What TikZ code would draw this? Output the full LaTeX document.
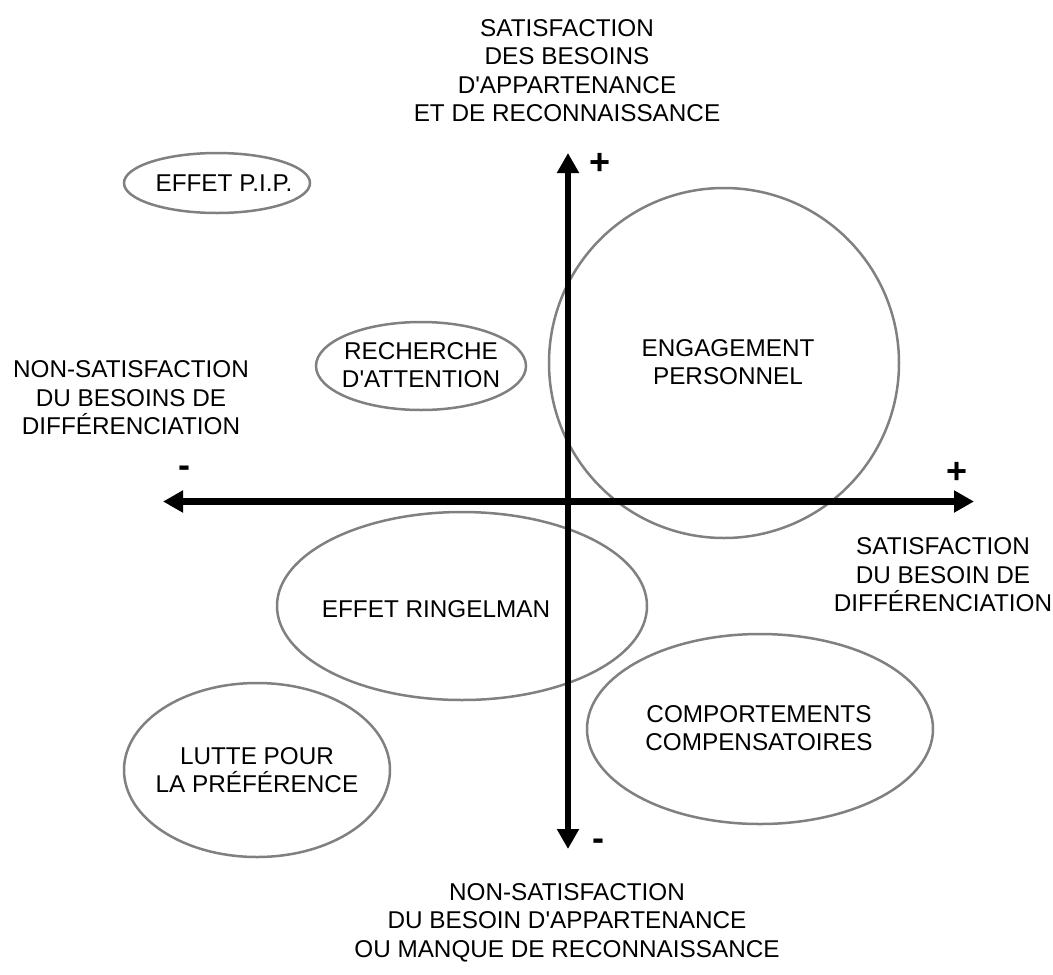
\documentclass[tikz,border=0pt]{standalone}
\usepackage{fontspec}
\setmainfont{Liberation Sans}[Ligatures=TeXOff]
\usetikzlibrary{arrows.meta,shapes.geometric}
\begin{document}
\begin{tikzpicture}[x=1pt,y=-1pt,
  lbl/.style={align=center,inner sep=0pt,anchor=north,font=\fontsize{24.3}{28.5}\selectfont},
  sign/.style={inner sep=0pt,font=\fontsize{36}{40}\selectfont\bfseries},
  ell/.style={draw=black!50,line width=2.5pt,ellipse,inner sep=0pt},
  axisline/.style={line width=6.5pt,{Triangle[length=20pt,width=21pt]}-{Triangle[length=20pt,width=21pt]}}]
\useasboundingbox (0,0) rectangle (1053,975);
% ellipses
\node[ell,minimum width=186pt,minimum height=60pt] (epip) at (217,183) {};
\node[ell,minimum width=210pt,minimum height=88pt] (erech) at (421,366) {};
\node[ell,circle,minimum size=350pt] (eeng) at (724,363) {};
\node[ell,minimum width=370pt,minimum height=188pt] (ering) at (462,606) {};
\node[ell,minimum width=346pt,minimum height=190pt] (ecomp) at (760,729) {};
\node[ell,minimum width=266pt,minimum height=174pt] (elutte) at (257,770) {};
% axes
\coordinate (ytop) at (568,153);
\coordinate (ybot) at (568,849);
\coordinate (xleft) at (163,501.5);
\coordinate (xright) at (974,501.5);
\draw[axisline] (ybot) -- (ytop);
\draw[axisline] (xleft) -- (xright);
% signs
\node[sign] (plustop) at (600,163.5) {+};
\node[sign] (plusright) at (957,472.5) {+};
\node[sign] (minusleft) at (184,471.5) {-};
\node[sign] (minusbot) at (598,845) {-};
% axis labels
\node[lbl] (ltop) at (567,19) {SATISFACTION\\DES BESOINS\\D'APPARTENANCE\\ET DE RECONNAISSANCE};
\node[lbl] (lleft) at (131,360.5) {NON-SATISFACTION\\DU BESOINS DE\\DIFFÉRENCIATION};
\node[lbl] (lright) at (943,537.5) {SATISFACTION\\DU BESOIN DE\\DIFFÉRENCIATION};
\node[lbl] (lbot) at (567,883) {NON-SATISFACTION\\DU BESOIN D'APPARTENANCE\\OU MANQUE DE RECONNAISSANCE};
% ellipse texts
\node[lbl] (tpip) at (224,175) {EFFET P.I.P.};
\node[lbl] (trech) at (421,342) {RECHERCHE\\D'ATTENTION};
\node[lbl] (teng) at (728,339) {ENGAGEMENT\\PERSONNEL};
\node[lbl] (tring) at (436,600) {EFFET RINGELMAN};
\node[lbl] (tcomp) at (759,705) {COMPORTEMENTS\\COMPENSATOIRES};
\node[lbl] (tlutte) at (257,747) {LUTTE POUR\\LA PRÉFÉRENCE};
\end{tikzpicture}
\end{document}
